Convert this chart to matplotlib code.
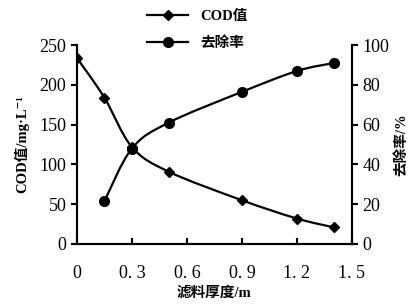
import numpy as np
import matplotlib.pyplot as plt
from matplotlib.path import Path
from matplotlib.patches import PathPatch
from matplotlib.lines import Line2D

plt.rcParams['font.family'] = ['Liberation Serif', 'Noto Sans CJK SC', 'DejaVu Serif']

thick_cod = [0, 0.15, 0.3, 0.5, 0.9, 1.2, 1.4]
cod = [234, 184, 122, 91, 55, 32, 21]
thick_rate = [0.15, 0.3, 0.5, 0.9, 1.2, 1.4]
rate = [21.5, 48, 61, 76.5, 87, 91]

x_ticks = [0, 0.3, 0.6, 0.9, 1.2, 1.5]
x_ticklabels = ['0', '0. 3', '0. 6', '0. 9', '1. 2', '1. 5']


def smooth_path(xs, ys):
    # Excel-style smoothed line (Catmull-Rom through the points)
    p = np.column_stack([xs, ys]).astype(float)
    verts = [p[0]]
    codes = [Path.MOVETO]
    n = len(p)
    for i in range(n - 1):
        p0 = p[i - 1] if i > 0 else p[i]
        p1, p2 = p[i], p[i + 1]
        p3 = p[i + 2] if i + 2 < n else p[i + 1]
        verts += [p1 + (p2 - p0) / 6, p2 - (p3 - p1) / 6, p2]
        codes += [Path.CURVE4] * 3
    return Path(verts, codes)


fig = plt.figure(figsize=(4.2, 3.05), dpi=100)
ax = fig.add_axes([0.183, 0.2, 0.655, 0.652])
ax2 = ax.twinx()

ax.add_patch(PathPatch(smooth_path(thick_cod, cod), fill=False, lw=1.6, color='black'))
ax.plot(thick_cod, cod, ls='none', marker='D', ms=5, color='black')
ax2.add_patch(PathPatch(smooth_path(thick_rate, rate), fill=False, lw=1.6, color='black'))
ax2.plot(thick_rate, rate, ls='none', marker='o', ms=7, color='black')

ax.set_xlim(0, 1.5)
ax.set_ylim(0, 250)
ax2.set_ylim(0, 100)
ax.set_xticks(x_ticks)
ax.set_xticklabels(x_ticklabels)
ax.set_yticks([0, 50, 100, 150, 200, 250])
ax2.set_yticks([0, 20, 40, 60, 80, 100])

for a in (ax, ax2):
    for s in a.spines.values():
        s.set_linewidth(1.5)
    a.tick_params(labelsize=13, width=1.5, length=4)
ax.tick_params(axis='x', direction='in', pad=15)
ax.tick_params(axis='y', direction='out')
ax2.tick_params(axis='y', direction='out')
ax.spines['top'].set_visible(False)
ax2.spines['top'].set_visible(False)

cjk = ['Liberation Serif', 'Noto Sans CJK SC', 'DejaVu Serif']
ax.set_xlabel('滤料厚度/m', family=cjk, fontweight='bold', fontsize=10.5, labelpad=3)
ax.set_ylabel('COD值/mg·L⁻¹', family=cjk, fontweight='bold', fontsize=10.5, labelpad=7)
ax2.set_ylabel('去除率/%', family=cjk, fontweight='bold', fontsize=10.5, labelpad=4)

handles = [Line2D([], [], color='black', lw=1.6, marker='D', ms=5),
           Line2D([], [], color='black', lw=1.6, marker='o', ms=7)]
fig.legend(handles, ['COD值', '去除率'], loc='upper center', bbox_to_anchor=(0.47, 0.995),
           frameon=False, prop={'family': cjk, 'weight': 'bold', 'size': 10.5},
           handlelength=2.8, labelspacing=0.9, borderaxespad=0.2)

fig.savefig('out.png', dpi=100)
